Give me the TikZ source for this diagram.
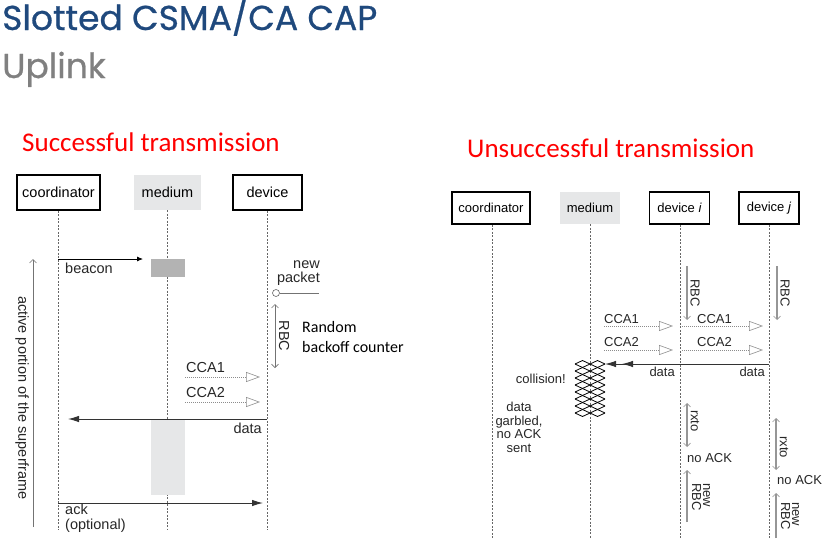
\documentclass[tikz,border=0pt]{standalone}
\usepackage{fontspec}
\setmainfont{Liberation Sans}
\newfontfamily\titlefont[FakeBold=0.7]{Poppins}
\newfontfamily\calfont{Carlito}
\usetikzlibrary{arrows.meta}
\definecolor{titleblue}{RGB}{31,73,125}
\definecolor{titlegray}{RGB}{128,128,128}
\definecolor{medgray}{RGB}{230,231,232}
\definecolor{beacongray}{RGB}{179,179,179}
\definecolor{arrgray}{RGB}{150,150,150}
\begin{document}
\begin{tikzpicture}[x=1pt,y=-1pt,
  actorL/.style={draw=black, line width=1.6pt, minimum height=35pt, inner sep=0pt, font=\fontsize{14.5}{16}\selectfont},
  actorR/.style={draw=black, line width=1.6pt, minimum height=32pt, inner sep=0pt, font=\fontsize{13}{15}\selectfont},
  medL/.style={fill=medgray, minimum height=35pt, inner sep=0pt, font=\fontsize{14.5}{16}\selectfont},
  medR/.style={fill=medgray, minimum height=32pt, inner sep=0pt, font=\fontsize{13}{15}\selectfont},
  life/.style={draw=black!60, line width=0.6pt, dash pattern=on 2pt off 1.5pt},
  lblL/.style={font=\fontsize{14.5}{15}\selectfont, inner sep=0pt, text=black!85},
  lblR/.style={font=\fontsize{13}{13.5}\selectfont, inner sep=0pt, text=black!85},
  msg/.style={draw=black!80, line width=1pt, -{Latex[length=11pt,width=6.5pt]}},
  cca/.style={draw=black!45, line width=0.6pt, dash pattern=on 1pt off 1pt, -{Triangle[open,length=14pt,width=10pt,line width=0.6pt]}},
  thin/.style={draw=black!55, line width=0.6pt},
  thick/.style={draw=arrgray, line width=1.4pt},
  redtitle/.style={font=\calfont\fontsize{27}{29}\selectfont, text=red, inner sep=0pt, anchor=base west},
]
\useasboundingbox (0,0) rectangle (830,549);

% titles
\node[anchor=base west, inner sep=0pt, font=\titlefont\fontsize{34.5}{36}\selectfont, text=titleblue] (t1) at (2,30) {Slotted CSMA/CA CAP};
\node[anchor=base west, inner sep=0pt, font=\titlefont\fontsize{34.5}{36}\selectfont, text=titlegray] (t2) at (2,78) {Uplink};
\node[redtitle] (s1) at (22,151) {Successful transmission};
\node[redtitle] (s2) at (467,157) {Unsuccessful transmission};

% ================= LEFT =================
\node[actorL, minimum width=83pt] (lc) at (58.5,192.5) {coordinator};
\node[medL, minimum width=67pt] (lm) at (167.5,192.5) {medium};
\node[actorL, minimum width=69pt] (ld) at (267.5,192.5) {device};
\coordinate (lcE) at (58,530);
\coordinate (lmE) at (167,530);
\coordinate (ldE) at (267,530);
\draw[life] (lc.south -| lcE) -- (lcE);
\draw[life] (lm.south -| lmE) -- (lmE);
\draw[life] (ld.south -| ldE) -- (ldE);

% beacon
\node[fill=beacongray, minimum width=34pt, minimum height=18pt, inner sep=0pt] (bbox) at (168,268) {};
\coordinate (b0) at (58,259);
\coordinate (b1) at (143,259);
\draw[draw=black, line width=0.8pt, -{Latex[length=6pt,width=5pt]}] (b0) -- (b1);
\node[lblL, anchor=west] (beacon) at (65,268) {beacon};

% active portion
\coordinate (a0) at (33,527);
\coordinate (a1) at (33,259);
\draw[thin, -{Straight Barb[length=3.5pt,width=7pt]}] (a0) -- (a1);
\node[lblL, rotate=-90] (act) at (22,398) {active portion of the superframe};

% new packet
\node[draw=black!60, circle, minimum size=7pt, inner sep=0pt, line width=0.6pt] (np) at (276,293) {};
\coordinate (np1) at (319,293);
\draw[thin] (np.east) -- (np1);
\node[lblL, align=right, anchor=south east] (nptxt) at (320,286) {new\\[-1pt]packet};

% RBC
\coordinate (r0) at (275,304);
\coordinate (r1) at (275,368);
\draw[thin, {Straight Barb[length=3.5pt,width=7pt]}-{Straight Barb[length=3.5pt,width=7pt]}] (r0) -- (r1);
\node[lblL, rotate=-90] (rbc) at (284,336) {RBC};
\node[font=\calfont\fontsize{16}{20}\selectfont, align=left, anchor=north west, inner sep=0pt] (rand) at (302,321) {Random\\backoff counter};

% CCA
\coordinate (c10) at (185,377);
\coordinate (c11) at (260,377);
\draw[cca] (c10) -- (c11);
\node[lblL, anchor=west] (cca1) at (186,368) {CCA1};
\coordinate (c20) at (185,402);
\coordinate (c21) at (260,402);
\draw[cca] (c20) -- (c21);
\node[lblL, anchor=west] (cca2) at (186,393) {CCA2};

% data
\node[fill=medgray, minimum width=34pt, minimum height=76pt, inner sep=0pt, anchor=north] (dbox) at (168,419) {};
\coordinate (d0) at (267,419);
\coordinate (d1) at (68,419);
\draw[msg] (d0) -- (d1);
\node[lblL, anchor=east] (data) at (262,428) {data};

% ack
\coordinate (k0) at (58,503);
\coordinate (k1) at (263,503);
\draw[msg] (k0) -- (k1);
\node[lblL, anchor=north west, align=left] (ack) at (65,504) {ack\\(optional)};

% ================= RIGHT =================
\node[actorR, minimum width=78pt] (rc) at (491,208) {coordinator};
\node[medR, minimum width=60pt] (rm) at (590,208) {medium};
\node[actorR, minimum width=60pt] (di) at (679.5,208) {device \textit{i}};
\node[actorR, minimum width=60pt] (dj) at (769,208) {device \textit{j}};
\coordinate (rcE) at (492,538);
\coordinate (rmE) at (590,538);
\coordinate (diE) at (680,538);
\coordinate (djE) at (769,538);
\draw[life] (rc.south -| rcE) -- (rcE);
\draw[life] (rm.south -| rmE) -- (rmE);
\draw[life] (di.south -| diE) -- (diE);
\draw[life] (dj.south -| djE) -- (djE);

% RBC arrows
\coordinate (ri0) at (687,266);
\coordinate (ri1) at (687,320);
\coordinate (rj0) at (777,266);
\coordinate (rj1) at (777,320);
\draw[thick, -{Straight Barb[length=3.5pt,width=7pt,line width=0.6pt]}] (ri0) -- (ri1);
\draw[thick, -{Straight Barb[length=3.5pt,width=7pt,line width=0.6pt]}] (rj0) -- (rj1);
\node[lblR, rotate=-90] (rbci) at (695,293) {RBC};
\node[lblR, rotate=-90] (rbcj) at (785,293) {RBC};

% CCA right
\coordinate (e10) at (604,326);
\coordinate (e11) at (673,326);
\coordinate (f10) at (682,326);
\coordinate (f11) at (763,326);
\coordinate (e20) at (604,350);
\coordinate (e21) at (673,350);
\coordinate (f20) at (682,350);
\coordinate (f21) at (763,350);
\draw[cca] (e10) -- (e11);
\draw[cca] (f10) -- (f11);
\draw[cca] (e20) -- (e21);
\draw[cca] (f20) -- (f21);
\node[lblR, anchor=west] (ecca1) at (604,319) {CCA1};
\node[lblR, anchor=west] (fcca1) at (697,319) {CCA1};
\node[lblR, anchor=west] (ecca2) at (604,342) {CCA2};
\node[lblR, anchor=west] (fcca2) at (697,342) {CCA2};

% collision hatch
\coordinate (coll) at (605,364);
\foreach \k in {0,...,7}{
  \pgfmathsetmacro{\yy}{364+7*\k}
  \draw[black, line width=0.8pt] (575,\yy) -- (582.5,\yy-3.5) -- (590,\yy) -- (597.5,\yy-3.5) -- (605,\yy);
  \draw[black, line width=0.8pt] (575,\yy) -- (582.5,\yy+3.5) -- (590,\yy) -- (597.5,\yy+3.5) -- (605,\yy);
}
\coordinate (dj0) at (769,364);
\coordinate (di1) at (622,364);
\draw[msg, line width=0.9pt] (dj0) -- (coll);
\draw[msg, line width=0.9pt] (dj0) -- (di1);
\node[lblR, anchor=east] (datai) at (675,372) {data};
\node[lblR, anchor=east] (dataj) at (765,372) {data};
\node[lblR, anchor=east] (colltxt) at (566,379) {collision!};
\node[lblR, align=center, anchor=north] (garb) at (519,402) {data\\garbled,\\no ACK\\sent};

% rxto
\coordinate (xi0) at (687,403);
\coordinate (xi1) at (687,447);
\coordinate (xj0) at (776,418);
\coordinate (xj1) at (776,470);
\draw[thick, {Straight Barb[length=3.5pt,width=7pt,line width=0.6pt]}-{Straight Barb[length=3.5pt,width=7pt,line width=0.6pt]}] (xi0) -- (xi1);
\draw[thick, {Straight Barb[length=3.5pt,width=7pt,line width=0.6pt]}-{Straight Barb[length=3.5pt,width=7pt,line width=0.6pt]}] (xj0) -- (xj1);
\node[lblR, rotate=-90] (rxi) at (695,421) {rxto};
\node[lblR, rotate=-90] (rxj) at (784,447) {rxto};
\node[lblR, anchor=west] (nai) at (687,458) {no ACK};
\node[lblR, anchor=west] (naj) at (777,480) {no ACK};

% new RBC
\coordinate (ni0) at (687,522);
\coordinate (ni1) at (687,470);
\coordinate (nj0) at (776,538);
\coordinate (nj1) at (776,493);
\draw[thick, -{Straight Barb[length=3.5pt,width=7pt,line width=0.6pt]}] (ni0) -- (ni1);
\draw[thick, -{Straight Barb[length=3.5pt,width=7pt,line width=0.6pt]}] (nj0) -- (nj1);
\node[lblR, rotate=-90, align=left, font=\fontsize{13}{11}\selectfont] (nri) at (701,497) {new\\RBC};
\node[lblR, rotate=-90, align=left, font=\fontsize{13}{11}\selectfont] (nrj) at (790,516) {new\\RBC};
\end{tikzpicture}
\end{document}
